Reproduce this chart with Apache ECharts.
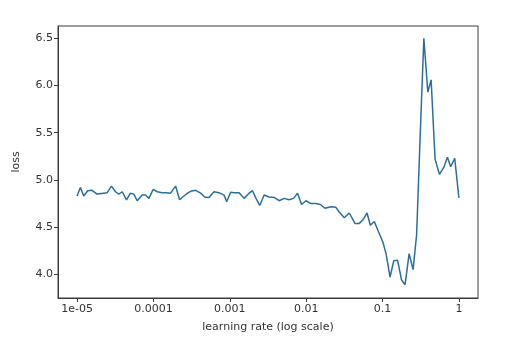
<!doctype html>
<html>
<head>
    <meta charset="UTF-8">
    <title>lr find</title>
    <script src="https://cdn.jsdelivr.net/npm/echarts@6/dist/echarts.min.js"></script>
    <style>
        html, body { margin: 0; padding: 0; background: #fff; }
        #main { width: 507px; height: 353px; }
    </style>
</head>
<body>
<div id="main"></div>
<script>
    // log10 of the learning rate for each recorded step
    var logLr = [
        -5.000, -4.957, -4.913, -4.861, -4.803, -4.738, -4.651, -4.606, -4.550, -4.497,
        -4.454, -4.409, -4.353, -4.302, -4.257, -4.213, -4.147, -4.103, -4.060, -4.003,
        -3.950, -3.885, -3.832, -3.776, -3.710, -3.658, -3.601, -3.553, -3.513, -3.448,
        -3.382, -3.330, -3.273, -3.207, -3.142, -3.076, -3.041, -2.989, -2.945, -2.879,
        -2.814, -2.748, -2.703, -2.654, -2.608, -2.551, -2.486, -2.420, -2.354, -2.289,
        -2.223, -2.165, -2.113, -2.060, -2.004, -1.938, -1.873, -1.814, -1.755, -1.677,
        -1.611, -1.567, -1.501, -1.436, -1.361, -1.304, -1.260, -1.203, -1.160, -1.108,
        -1.063, -0.997, -0.954, -0.902, -0.853, -0.803, -0.751, -0.705, -0.652, -0.600,
        -0.554, -0.508, -0.459, -0.407, -0.364, -0.312, -0.255, -0.200, -0.150, -0.108,
        -0.055, 0.000
    ];
    var loss = [
        4.83, 4.92, 4.83, 4.886, 4.89, 4.85, 4.86, 4.865, 4.935, 4.875,
        4.85, 4.875, 4.79, 4.86, 4.85, 4.78, 4.84, 4.84, 4.805, 4.90,
        4.875, 4.865, 4.865, 4.86, 4.935, 4.79, 4.83, 4.86, 4.88, 4.89,
        4.86, 4.82, 4.815, 4.875, 4.865, 4.84, 4.77, 4.87, 4.865, 4.865,
        4.805, 4.86, 4.886, 4.80, 4.73, 4.84, 4.82, 4.815, 4.78, 4.805,
        4.79, 4.805, 4.86, 4.74, 4.78, 4.75, 4.75, 4.74, 4.70, 4.716,
        4.71, 4.66, 4.60, 4.65, 4.54, 4.54, 4.575, 4.65, 4.52, 4.56,
        4.47, 4.345, 4.22, 3.97, 4.145, 4.15, 3.94, 3.89, 4.22, 4.05,
        4.42, 5.45, 6.50, 5.93, 6.06, 5.22, 5.06, 5.13, 5.24, 5.14,
        5.23, 4.81
    ];
    var xTicks = [-5, -4, -3, -2, -1, 0];
    var xTickLabels = ['1e-05', '0.0001', '0.001', '0.01', '0.1', '1'];
    var yTicks = [4.0, 4.5, 5.0, 5.5, 6.0, 6.5];

    var points = [];
    for (var i = 0; i < logLr.length; i++) {
        points.push([logLr[i], loss[i]]);
    }

    var font = 'DejaVu Sans';
    var myChart = echarts.init(document.getElementById('main'));
    var option = {
        animation: false,
        backgroundColor: '#fff',
        grid: {
            left: 58,
            right: 29,
            top: 26,
            bottom: 55,
            show: true,
            borderColor: '#3a3a3a',
            borderWidth: 1
        },
        xAxis: {
            type: 'value',
            min: -5.25,
            max: 0.25,
            name: 'learning rate (log scale)',
            nameLocation: 'middle',
            nameGap: 24,
            nameTextStyle: { fontFamily: font, fontSize: 11, color: '#333' },
            axisLine: { show: true, onZero: false, lineStyle: { color: '#3a3a3a', width: 1 } },
            axisTick: { show: true, length: 4, customValues: xTicks, lineStyle: { color: '#3a3a3a' } },
            axisLabel: {
                customValues: xTicks,
                margin: 6,
                fontFamily: font,
                fontSize: 11,
                color: '#333',
                formatter: function (value) {
                    return xTickLabels[xTicks.indexOf(Math.round(value))];
                }
            },
            splitLine: { show: false }
        },
        yAxis: {
            type: 'value',
            min: 3.75,
            max: 6.63,
            name: 'loss',
            nameLocation: 'middle',
            nameGap: 36,
            nameRotate: 90,
            nameTextStyle: { fontFamily: font, fontSize: 11, color: '#333' },
            axisLine: { show: true, onZero: false, lineStyle: { color: '#3a3a3a', width: 1 } },
            axisTick: { show: true, length: 4, customValues: yTicks, lineStyle: { color: '#3a3a3a' } },
            axisLabel: {
                customValues: yTicks,
                margin: 5,
                fontFamily: font,
                fontSize: 11,
                color: '#333',
                formatter: function (value) {
                    return value.toFixed(1);
                }
            },
            splitLine: { show: false }
        },
        series: [
            {
                type: 'line',
                data: points,
                showSymbol: false,
                smooth: false,
                lineStyle: { color: '#2a6f9c', width: 1.5 },
                itemStyle: { color: '#2a6f9c' }
            }
        ]
    };
    myChart.setOption(option);
</script>
</body>
</html>
